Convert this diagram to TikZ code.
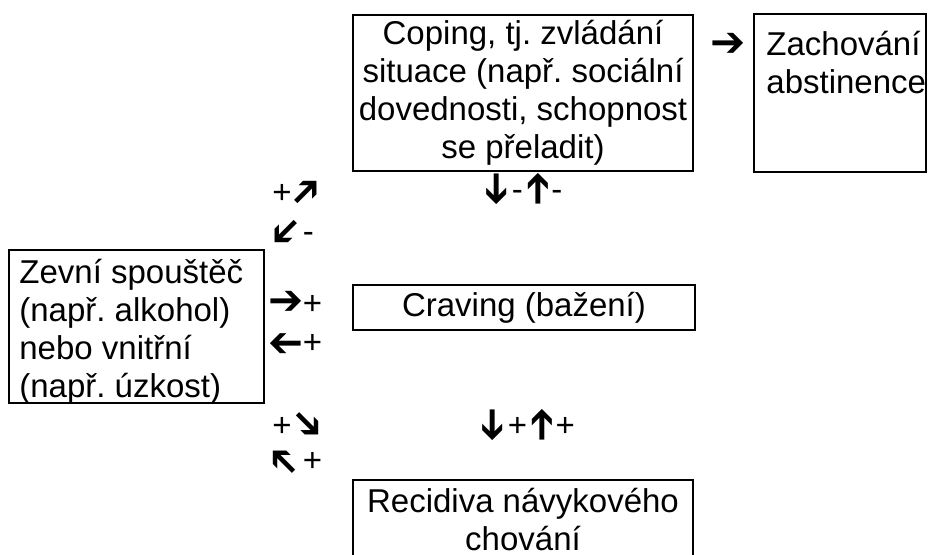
\documentclass[tikz,border=0pt]{standalone}
\usepackage{fontspec}
\setmainfont{Liberation Sans}
\newfontfamily\arrowfont{DejaVu Sans Bold}
\usetikzlibrary{positioning}
\frenchspacing
\tikzstyle{block} = [rectangle, draw, line width=1pt, text centered, align=center, inner sep=0pt]
\tikzstyle{blocktext} = [anchor=north west, inner sep=0pt, align=left]
\tikzstyle{sign} = [anchor=west, inner sep=0pt]
% thick arrow glyph turned to the given angle, kept in a fixed box
\newcommand{\dirarr}[1]{\makebox[11.5pt][c]{\vphantom{\arrowfont\fontsize{21}{21}\selectfont ➔}\smash{\rotatebox[origin=c]{#1}{\arrowfont\fontsize{21}{21}\selectfont ➔}}}}
\newcommand{\diagarr}[1]{\makebox[12.5pt][c]{\vphantom{\arrowfont\fontsize{21}{21}\selectfont ➔}\smash{\rotatebox[origin=c]{#1}{\arrowfont\fontsize{20}{20}\selectfont ➔}}}}

\begin{document}
\begin{tikzpicture}[x=0.5pt, y=-0.5pt, font=\fontsize{16.5}{19}\selectfont]
		\useasboundingbox (0,0) rectangle (932,554);

		\node [block, minimum width=170pt, minimum height=78pt] (coping) at (523,93) {Coping, tj. zvládání\\situace (např. sociální\\dovednosti, schopnost\\se přeladit)};
		\node [block, minimum width=86pt, minimum height=79pt] (abstinence) at (840,93) {};
		\node [blocktext] (abstinence-text) at ([xshift=6.5pt, yshift=-9pt]abstinence.north west) {Zachování\\abstinence};
		\node [block, minimum width=127.5pt, minimum height=76.5pt] (trigger) at (136.5,326.5) {};
		\node [blocktext] (trigger-text) at ([xshift=5.5pt, yshift=-5pt]trigger.north west) {Zevní spouštěč\\(např. alkohol)\\nebo vnitřní\\(např. úzkost)};
		\node [block, minimum width=171pt, minimum height=22.5pt] (craving) at (524,307.5) {Craving (bažení)};
		\node [block, minimum width=170pt, minimum height=39pt] (relapse) at (523,519) {Recidiva návykového\\chování};

		\node [sign] (coping-up) at (272,192) {+\kern1.5pt\diagarr{45}};
		\node [sign] (trigger-down) at (272,231) {\diagarr{-135}\,-};
		\node [sign] (coping-updown) at (483,189) {\dirarr{-90}\,-\,\dirarr{90}-};
		\node [sign, anchor=center] (abstinence-arrow) at (728,45) {\dirarr{0}};
		\node [sign] (craving-in) at (274,303) {\dirarr{0}\,+};
		\node [sign] (craving-out) at (274,342) {\dirarr{180}\,+};
		\node [sign] (relapse-down) at (272,425) {+\kern1.5pt\diagarr{-45}};
		\node [sign] (relapse-updown) at (479,425) {\dirarr{-90}\,+\,\dirarr{90}+};
		\node [sign] (relapse-back) at (272,460) {\diagarr{135}\,+};
	\end{tikzpicture}
\end{document}
